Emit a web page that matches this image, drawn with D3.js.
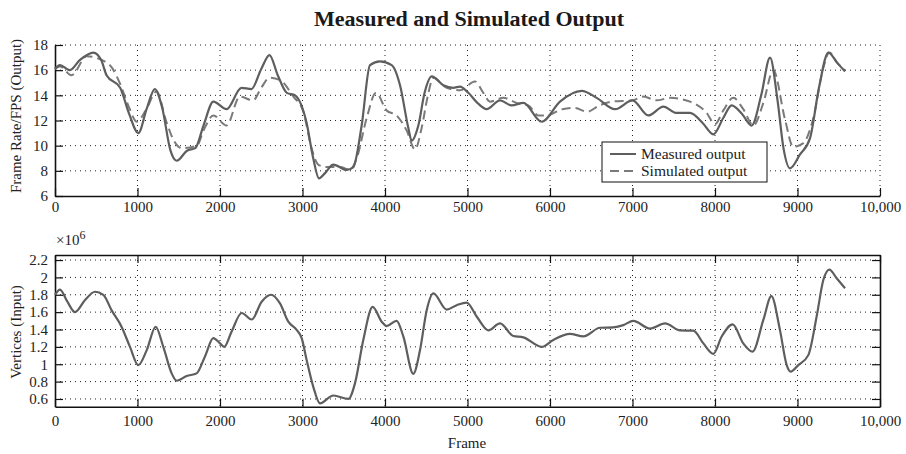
<!DOCTYPE html>
<html>
<head>
<meta charset="utf-8">
<script src="https://cdn.jsdelivr.net/npm/d3@7"></script>
<style>
  html, body { margin: 0; padding: 0; background: #fff; }
  svg { display: block; font-family: "Liberation Serif", "DejaVu Serif", serif; }
</style>
</head>
<body>
<svg id="chart" width="906" height="454"></svg>
<script>
// Frame rate: measured vs. simulated output
const measuredFrames = [0, 60, 180, 300, 465, 560, 625, 790, 900, 1010, 1110, 1210, 1300, 1400, 1475, 1600, 1700, 1800, 1920, 2080, 2260, 2380, 2500, 2600, 2700, 2810, 2910, 3050, 3130, 3200, 3270, 3374, 3535, 3616, 3717, 3818, 3939, 4081, 4182, 4283, 4323, 4404, 4480, 4566, 4707, 4828, 4909, 5010, 5120, 5232, 5394, 5535, 5677, 5899, 6121, 6384, 6566, 6788, 7000, 7192, 7374, 7535, 7697, 7850, 7980, 8100, 8202, 8330, 8444, 8560, 8667, 8760, 8830, 8909, 9030, 9152, 9260, 9374, 9480, 9576];
const measuredFps = [16.1, 16.4, 16.0, 16.8, 17.4, 16.8, 15.6, 14.6, 12.5, 11.0, 12.9, 14.5, 13.0, 9.6, 8.8, 9.6, 9.8, 11.6, 13.5, 12.9, 14.6, 14.5, 16.1, 17.2, 15.6, 14.2, 14.0, 11.8, 9.0, 7.4, 7.8, 8.5, 8.07, 8.3, 11.6, 16.4, 16.7, 16.4, 14.8, 11.4, 10.4, 11.6, 14.2, 15.5, 14.8, 14.6, 14.7, 14.2, 13.4, 12.9, 13.6, 13.2, 13.4, 11.9, 13.5, 14.35, 13.8, 12.9, 13.6, 12.4, 13.1, 12.6, 12.6, 11.8, 10.9, 12.2, 13.2, 12.5, 11.6, 14.0, 17.0, 13.5, 9.8, 8.2, 9.3, 10.6, 14.6, 17.4, 16.6, 15.9];

const simulatedFrames = [0, 60, 200, 385, 570, 700, 790, 900, 990, 1100, 1230, 1350, 1440, 1535, 1720, 1800, 1920, 2080, 2240, 2400, 2500, 2600, 2730, 2890, 3010, 3110, 3190, 3290, 3455, 3576, 3657, 3778, 3891, 4020, 4141, 4263, 4364, 4444, 4520, 4586, 4747, 4909, 5091, 5192, 5273, 5434, 5596, 5737, 5859, 5960, 6150, 6300, 6450, 6600, 6750, 7000, 7131, 7293, 7455, 7697, 7899, 8000, 8101, 8222, 8343, 8465, 8586, 8707, 8848, 8949, 9071, 9192, 9313, 9386, 9480, 9576];
const simulatedFps = [16.1, 16.3, 15.6, 17.1, 16.8, 16.1, 14.9, 13.0, 11.9, 12.8, 14.3, 11.9, 10.4, 9.8, 10.0, 11.2, 12.4, 11.6, 13.9, 13.6, 14.6, 15.4, 15.2, 13.9, 12.7, 9.8, 8.5, 8.3, 8.3, 8.1, 9.0, 12.2, 14.2, 12.8, 12.4, 11.2, 9.7, 11.4, 14.0, 15.4, 14.6, 14.4, 15.1, 14.2, 13.5, 13.8, 13.4, 13.2, 12.4, 12.4, 12.9, 13.0, 12.7, 13.2, 13.5, 13.6, 13.9, 13.6, 13.8, 13.5, 12.6, 11.7, 12.8, 13.8, 12.9, 11.6, 13.4, 16.0, 12.1, 9.9, 10.2, 12.2, 16.2, 17.4, 16.6, 16.0];

// Input: vertex count (×10^6)
const inputFrames = [0, 60, 150, 242, 364, 485, 586, 687, 808, 909, 1010, 1111, 1220, 1313, 1414, 1475, 1596, 1717, 1818, 1919, 2000, 2050, 2140, 2263, 2384, 2505, 2618, 2727, 2828, 2929, 2990, 3050, 3131, 3212, 3374, 3556, 3636, 3737, 3850, 3960, 4020, 4141, 4222, 4343, 4424, 4505, 4586, 4747, 4869, 4990, 5111, 5253, 5394, 5556, 5677, 5899, 6040, 6242, 6404, 6606, 6768, 6889, 7010, 7212, 7394, 7576, 7737, 7859, 7980, 8081, 8214, 8343, 8455, 8586, 8683, 8788, 8869, 8917, 9010, 9131, 9232, 9313, 9386, 9475, 9576];
const inputVertices = [1.8, 1.86, 1.72, 1.6, 1.74, 1.835, 1.8, 1.62, 1.43, 1.2, 0.99, 1.16, 1.43, 1.2, 0.895, 0.81, 0.865, 0.895, 1.09, 1.3, 1.24, 1.2, 1.375, 1.59, 1.515, 1.72, 1.8, 1.7, 1.49, 1.395, 1.3, 1.05, 0.74, 0.55, 0.64, 0.6, 0.78, 1.28, 1.66, 1.49, 1.44, 1.5, 1.32, 0.89, 1.16, 1.62, 1.815, 1.63, 1.68, 1.71, 1.55, 1.39, 1.47, 1.325, 1.31, 1.2, 1.28, 1.35, 1.32, 1.42, 1.425, 1.45, 1.5, 1.41, 1.47, 1.39, 1.386, 1.24, 1.12, 1.32, 1.46, 1.24, 1.145, 1.51, 1.785, 1.39, 0.99, 0.915, 0.99, 1.105, 1.55, 1.97, 2.09, 1.99, 1.875];

const frameTicks = [0, 1000, 2000, 3000, 4000, 5000, 6000, 7000, 8000, 9000, 10000];
const fpsTicks = [6, 8, 10, 12, 14, 16, 18];
const vertexTicks = [0.6, 0.8, 1, 1.2, 1.4, 1.6, 1.8, 2, 2.2];

const svg = d3.select("#chart");
const L = 55, R = 880;
const x = d3.scaleLinear([0, 10000], [L, R]);
const yTop = d3.scaleLinear([6, 18], [196, 45]);
const yBot = d3.scaleLinear([0.511, 2.258], [406.7, 255]);

const fmtFrame = d => d === 10000 ? "10,000" : String(d);
const lineColor = "#5e5e5e";
const dashColor = "#7a7a7a";

function grid(g, xs, ys, yScale, top, bottom) {
  g.selectAll("line.v").data(xs).join("line")
    .attr("x1", d => x(d)).attr("x2", d => x(d))
    .attr("y1", top).attr("y2", bottom);
  g.selectAll("line.h").data(ys).join("line").attr("class", "h")
    .attr("x1", L).attr("x2", R)
    .attr("y1", d => yScale(d)).attr("y2", d => yScale(d));
  g.selectAll("line")
    .attr("stroke", "#222").attr("stroke-width", 1)
    .attr("stroke-dasharray", "1,4");
}

function styleAxis(g, fontSize) {
  g.select(".domain").attr("stroke", "#111").attr("stroke-width", 1.6);
  g.selectAll(".tick line").attr("stroke", "#111").attr("stroke-width", 1.2);
  g.selectAll(".tick text").attr("fill", "#222")
    .attr("font-size", fontSize)
    .attr("font-family", "Liberation Serif, DejaVu Serif, serif");
}

// ---- Top panel ----
const gridTop = svg.append("g");
grid(gridTop, frameTicks.slice(1), fpsTicks.slice(1), yTop, 45, 196);

const topX = svg.append("g").attr("transform", "translate(0,196)")
  .call(d3.axisBottom(x).tickValues(frameTicks).tickFormat(fmtFrame)
    .tickSizeInner(-8).tickSizeOuter(0).tickPadding(5));
styleAxis(topX, 15);

const topY = svg.append("g").attr("transform", `translate(${L},0)`)
  .call(d3.axisLeft(yTop).tickValues(fpsTicks)
    .tickSizeInner(-8).tickSizeOuter(0).tickPadding(7));
styleAxis(topY, 15);

const fpsLine = (xs, ys) => d3.line()
  .x((d, i) => x(xs[i])).y((d, i) => yTop(ys[i]))
  .curve(d3.curveMonotoneX)(ys);

svg.append("path").attr("d", fpsLine(simulatedFrames, simulatedFps))
  .attr("fill", "none").attr("stroke", dashColor).attr("stroke-width", 2)
  .attr("stroke-dasharray", "9,5");
svg.append("path").attr("d", fpsLine(measuredFrames, measuredFps))
  .attr("fill", "none").attr("stroke", lineColor).attr("stroke-width", 2.2);

svg.append("text").attr("x", 469).attr("y", 26)
  .attr("text-anchor", "middle").attr("font-weight", "bold")
  .attr("font-size", 20.5).attr("fill", "#1a1a1a")
  .attr("textLength", 310).attr("lengthAdjust", "spacingAndGlyphs")
  .text("Measured and Simulated Output");

svg.append("text")
  .attr("transform", "translate(21,116) rotate(-90)")
  .attr("text-anchor", "middle").attr("font-size", 15).attr("fill", "#222")
  .text("Frame Rate/FPS (Output)");

// Legend
const leg = svg.append("g");
leg.append("rect").attr("x", 602).attr("y", 142).attr("width", 165).attr("height", 40)
  .attr("fill", "#fff").attr("stroke", "#111").attr("stroke-width", 1);
const legendItems = [
  { label: "Measured output", color: lineColor, dash: null },
  { label: "Simulated output", color: dashColor, dash: "9,5" }
];
legendItems.forEach((it, i) => {
  const cy = 154 + i * 17;
  leg.append("line").attr("x1", 610).attr("x2", 636).attr("y1", cy).attr("y2", cy)
    .attr("stroke", it.color).attr("stroke-width", 2)
    .attr("stroke-dasharray", it.dash);
  leg.append("text").attr("x", 641).attr("y", cy + 4.5)
    .attr("font-size", 15.5).attr("fill", "#222").text(it.label);
});

// ---- Bottom panel ----
const gridBot = svg.append("g");
grid(gridBot, frameTicks.slice(1, -1), vertexTicks, yBot, 255, 406.7);

const botX = svg.append("g").attr("transform", "translate(0,406.7)")
  .call(d3.axisBottom(x).tickValues(frameTicks).tickFormat(fmtFrame)
    .tickSizeInner(-8).tickSizeOuter(0).tickPadding(9));
styleAxis(botX, 15);

const botXTop = svg.append("g").attr("transform", "translate(0,255)")
  .call(d3.axisTop(x).tickValues(frameTicks).tickFormat("")
    .tickSizeInner(-8).tickSizeOuter(0));
styleAxis(botXTop, 15);

const botY = svg.append("g").attr("transform", `translate(${L},0)`)
  .call(d3.axisLeft(yBot).tickValues(vertexTicks).tickFormat(d => String(d))
    .tickSizeInner(-8).tickSizeOuter(0).tickPadding(7));
styleAxis(botY, 15);

const botYRight = svg.append("g").attr("transform", `translate(${R},0)`)
  .call(d3.axisRight(yBot).tickValues(vertexTicks).tickFormat("")
    .tickSizeInner(-8).tickSizeOuter(0));
styleAxis(botYRight, 15);

svg.append("path")
  .attr("d", d3.line()
    .x((d, i) => x(inputFrames[i])).y(d => yBot(d))
    .curve(d3.curveMonotoneX)(inputVertices))
  .attr("fill", "none").attr("stroke", lineColor).attr("stroke-width", 2.2);

const exp = svg.append("text").attr("x", 56).attr("y", 245)
  .attr("font-size", 15).attr("fill", "#222");
exp.append("tspan").text("×10");
exp.append("tspan").attr("dy", -6).attr("font-size", 12).text("6");

svg.append("text")
  .attr("transform", "translate(21,332) rotate(-90)")
  .attr("text-anchor", "middle").attr("font-size", 15).attr("fill", "#222")
  .text("Vertices (Input)");

svg.append("text").attr("x", 467).attr("y", 448)
  .attr("text-anchor", "middle").attr("font-size", 15).attr("fill", "#222")
  .text("Frame");
</script>
</body>
</html>
